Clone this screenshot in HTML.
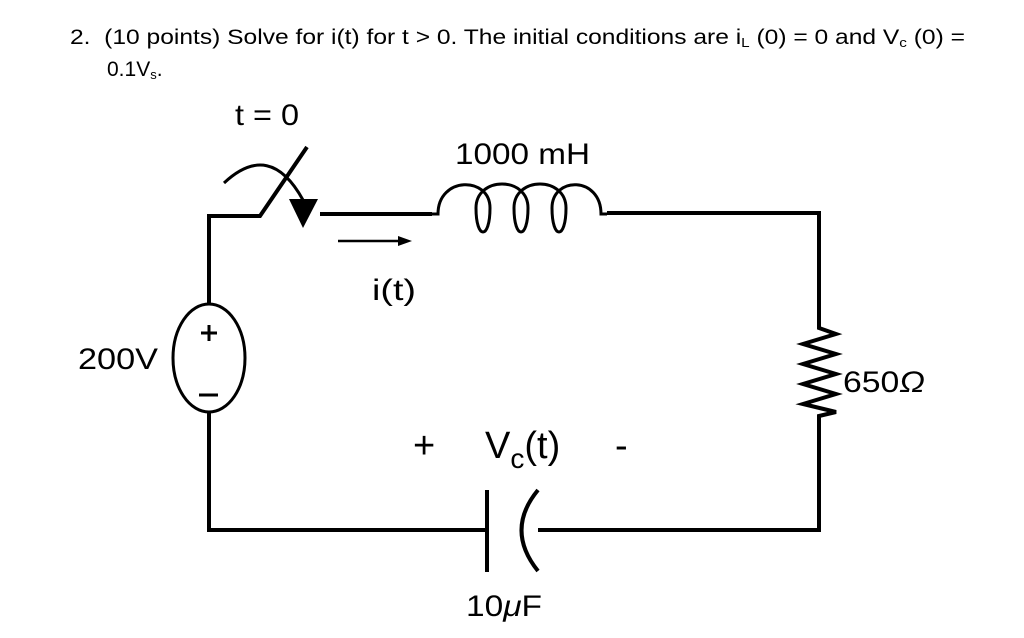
<!DOCTYPE html>
<html><head><style>
body{margin:0;background:#fff;width:1024px;height:638px;overflow:hidden}
svg{position:absolute;left:0;top:0}
</style></head><body>
<svg width="1024" height="638" viewBox="0 0 1024 638" font-family="Liberation Sans, Arial, sans-serif">
<text x="70" y="44" font-size="21" textLength="895" lengthAdjust="spacingAndGlyphs">2.&#160;&#160;(10 points) Solve for i(t) for t &gt; 0. The initial conditions are i<tspan font-size="13" dy="3">L</tspan><tspan dy="-3"> (0) = 0 and V</tspan><tspan font-size="13" dy="3">c</tspan><tspan dy="-3"> (0) =</tspan></text>
<text x="107" y="76" font-size="21">0.1V<tspan font-size="13" dy="3">s</tspan><tspan dy="-3">.</tspan></text>
<g stroke="#000" stroke-width="4" fill="none">
<polyline points="209,305 209,216 260,216 307,147"/>
<path d="M224,183 Q270,140 303,200" stroke-width="3"/>
<line x1="320" y1="214" x2="432" y2="214"/>
<path d="M432,214 L438,214 C438,176 490,176 490,208 C490,240 476,240 476,208 C476,176 528,176 528,208 C528,240 514,240 514,208 C514,176 566,176 566,208 C566,240 552,240 552,208 C552,176 601,176 601,214 L607,214" stroke-width="3"/>
<polyline points="607,213 819,213 819,318"/>
<polyline points="819,318 819,328 836,334 803,344 836,354 803,364 836,374 803,384 836,394 803,404 836,412 819,416 819,530 538,530"/>
<polyline points="209,412 209,530 487,530"/>
<line x1="487" y1="490" x2="487" y2="572"/>
<path d="M538,490 Q505,530 538,571"/>
<line x1="338" y1="241" x2="400" y2="241" stroke-width="2.5"/>
<ellipse cx="209" cy="358" rx="36" ry="54" stroke-width="3"/>
<line x1="201" y1="333" x2="217" y2="333" stroke-width="3"/>
<line x1="209" y1="325" x2="209" y2="341" stroke-width="3"/>
<line x1="199" y1="395" x2="218" y2="395" stroke-width="3"/>
</g>
<polygon points="289,199 318,199 303,228" fill="#000"/>
<polygon points="398,236 412,241 398,246" fill="#000"/>
<g font-size="30" fill="#000">
<text x="235" y="125" textLength="64" lengthAdjust="spacingAndGlyphs">t = 0</text>
<text x="455" y="164" textLength="135" lengthAdjust="spacingAndGlyphs">1000 mH</text>
<text x="372" y="300" textLength="44" lengthAdjust="spacingAndGlyphs">i(t)</text>
<text x="78" y="369" textLength="80" lengthAdjust="spacingAndGlyphs">200V</text>
<text x="843" y="392" textLength="82" lengthAdjust="spacingAndGlyphs">650<tspan font-style="italic">Ω</tspan></text>
<text x="466" y="616" textLength="76" lengthAdjust="spacingAndGlyphs">10<tspan font-style="italic">μ</tspan>F</text>
</g>
<g font-size="38" fill="#000">
<text x="413" y="458">+</text>
<text x="485" y="458">V<tspan font-size="28" dy="10">c</tspan><tspan dy="-10">(t)</tspan></text>
<text x="615" y="458">-</text>
</g>
</svg>
</body></html>
